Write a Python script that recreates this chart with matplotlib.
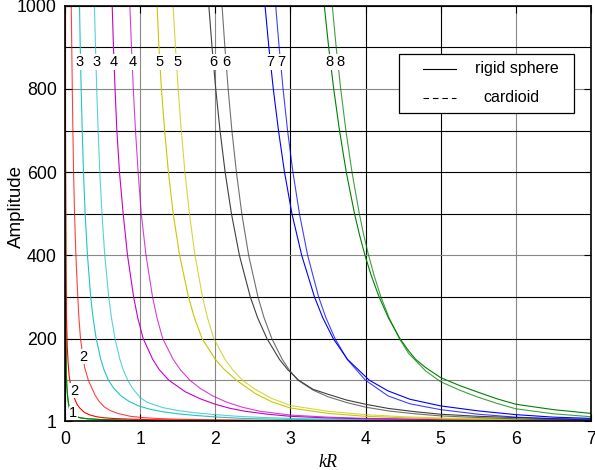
import numpy as np
import matplotlib
matplotlib.use('Agg')
import matplotlib.pyplot as plt
from matplotlib.lines import Line2D
from matplotlib.patches import Rectangle

plt.rcParams['font.family'] = ['Liberation Sans', 'DejaVu Sans']

# values (kR, amplitude)
rigid1_x = [0.004, 0.006, 0.009, 0.012, 0.016, 0.022, 0.033, 0.045, 0.06, 0.08, 0.113, 0.15, 0.2, 0.3, 0.5, 1.0, 2.0, 4.0, 7.0]
rigid1_y = [1000, 600, 350, 200, 120, 90, 63, 44, 31, 22, 15, 12, 9.5, 7, 5, 3, 2, 1.5, 1.3]
card1_x = [0.005, 0.007, 0.01, 0.013, 0.018, 0.025, 0.036, 0.048, 0.065, 0.085, 0.12, 0.16, 0.21, 0.3, 0.5, 1.0, 2.0, 4.0, 7.0]
card1_y = [1000, 600, 350, 200, 120, 88, 60, 43, 30, 22, 15, 12, 9, 7, 5, 3, 2, 1.6, 1.4]

rigid2_x = [0.004, 0.006, 0.009, 0.013, 0.02, 0.03, 0.042, 0.055, 0.075, 0.095, 0.115, 0.136, 0.165, 0.202, 0.26,
            0.335, 0.42, 0.512, 0.67, 0.867, 1.1, 1.5, 2.0, 2.5, 4.0, 7.0]
rigid2_y = [1000, 700, 500, 350, 250, 180, 140, 110, 88, 72, 61, 52, 40, 32, 22, 16, 12, 9.5, 7.5, 6.2, 5, 4, 3.5, 3, 2, 1.5]
card2_x = [0.083, 0.09, 0.097, 0.105, 0.114, 0.127, 0.145, 0.17, 0.185, 0.206, 0.24, 0.262, 0.31, 0.36, 0.4, 0.45,
           0.52, 0.6, 0.7, 0.87, 1.03, 1.25, 1.5, 2.0, 2.5, 4.0, 7.0]
card2_y = [1000, 900, 800, 700, 600, 500, 400, 300, 250, 200, 156, 130, 100, 80, 64, 50, 36, 27, 20, 13, 10, 7.5, 6,
           4.5, 3.5, 2.5, 2]

rigid3_x = [0.193, 0.203, 0.215, 0.229, 0.246, 0.268, 0.299, 0.342, 0.373, 0.415, 0.476, 0.519, 0.577, 0.65, 0.74,
            0.85, 0.98, 1.13, 1.3, 1.5, 1.74, 2.0, 2.36, 2.8, 3.5, 5.0, 7.0]
rigid3_y = [1000, 900, 800, 700, 600, 500, 400, 300, 250, 200, 150, 125, 100, 80, 63, 49, 38, 30, 24, 19, 15, 11.5, 8,
            6, 4.5, 3, 2]
card3_x = [0.392, 0.406, 0.422, 0.441, 0.463, 0.492, 0.529, 0.582, 0.618, 0.665, 0.73, 0.775, 0.834, 0.9, 1.0, 1.1,
           1.3, 1.5, 1.7, 2.0, 2.3, 2.6, 3.0, 4.0, 5.5, 7.0]
card3_y = [1000, 900, 800, 700, 600, 500, 400, 300, 250, 200, 150, 125, 100, 80, 58, 46, 34, 27, 22, 17, 13, 10.5, 8,
           5, 3, 2]

rigid4_x = [0.628, 0.645, 0.666, 0.69, 0.725, 0.774, 0.832, 0.913, 0.968, 1.04, 1.167, 1.255, 1.38, 1.6, 1.8, 2.0,
            2.2, 2.4, 2.7, 3.0, 3.5, 4.0, 5.0, 6.0, 7.0]
rigid4_y = [1000, 900, 800, 700, 600, 500, 400, 300, 250, 200, 150, 125, 100, 72, 55, 42, 32, 25, 18, 13, 9, 7, 5,
            3.5, 3]
card4_x = [0.863, 0.885, 0.909, 0.938, 0.973, 1.015, 1.078, 1.165, 1.224, 1.3, 1.439, 1.535, 1.66, 1.8, 1.957, 2.15,
           2.356, 2.6, 3.0, 3.5, 4.0, 5.0, 6.0, 7.0]
card4_y = [1000, 900, 800, 700, 600, 500, 400, 300, 250, 200, 150, 125, 100, 80, 63, 47, 35, 25, 16, 11, 8, 5.5, 4, 3]

rigid5_x = [1.226, 1.25, 1.283, 1.326, 1.376, 1.44, 1.525, 1.643, 1.722, 1.824, 2.0, 2.123, 2.28, 2.53, 2.75, 3.0,
            3.5, 4.0, 4.5, 5.0, 6.0, 7.0]
rigid5_y = [1000, 900, 800, 700, 600, 500, 400, 300, 250, 200, 150, 125, 100, 68, 48, 33, 20, 13, 9.5, 7, 5, 3.5]
card5_x = [1.439, 1.47, 1.506, 1.547, 1.596, 1.656, 1.73, 1.83, 1.896, 1.98, 2.129, 2.23, 2.36, 2.53, 2.75, 3.0, 3.5,
           4.0, 4.5, 5.0, 6.0, 7.0]
card5_y = [1000, 900, 800, 700, 600, 500, 400, 300, 250, 200, 150, 125, 100, 78, 56, 39, 25, 17, 12, 9, 6, 4.5]

rigid6_x = [1.914, 1.957, 2.006, 2.063, 2.131, 2.215, 2.321, 2.466, 2.563, 2.687, 2.853, 2.965, 3.108, 3.3, 3.5, 3.75,
            4.0, 4.3, 4.66, 5.0, 5.5, 6.0, 6.5, 7.0]
rigid6_y = [1000, 900, 800, 700, 600, 500, 400, 300, 250, 200, 150, 125, 100, 78, 66, 52, 42, 32, 24, 18, 13, 10,
            7.5, 6]
card6_x = [2.09, 2.128, 2.171, 2.221, 2.281, 2.353, 2.444, 2.568, 2.649, 2.752, 2.891, 2.982, 3.098, 3.3, 3.5, 3.75,
           4.0, 4.3, 4.66, 5.0, 5.5, 6.0, 6.5, 7.0]
card6_y = [1000, 900, 800, 700, 600, 500, 400, 300, 250, 200, 150, 125, 100, 76, 60, 46, 35, 26, 19, 14, 10, 7, 5, 4]

rigid7_x = [2.662, 2.713, 2.772, 2.841, 2.921, 3.02, 3.15, 3.32, 3.43, 3.569, 3.759, 4.048, 4.3, 4.59, 5.0, 5.5,
            6.0, 6.5, 7.0]
rigid7_y = [1000, 900, 800, 700, 600, 500, 400, 300, 250, 200, 150, 100, 74, 54, 38, 26, 17, 11, 8]
card7_x = [2.804, 2.85, 2.902, 2.962, 3.033, 3.12, 3.229, 3.375, 3.472, 3.593, 3.755, 3.997, 4.3, 4.59, 5.0, 5.5,
           6.0, 6.5, 7.0]
card7_y = [1000, 900, 800, 700, 600, 500, 400, 300, 250, 200, 150, 100, 62, 43, 29, 18, 11, 7, 4]

rigid8_x = [3.451, 3.509, 3.576, 3.653, 3.743, 3.853, 3.918, 3.992, 4.078, 4.18, 4.303, 4.457, 4.566, 4.666, 4.8,
            5.0, 5.25, 5.48, 5.75, 6.0, 6.5, 7.0]
rigid8_y = [1000, 900, 800, 700, 600, 500, 450, 400, 350, 300, 250, 200, 172, 150, 130, 106, 87, 72, 55, 42, 29, 20]
card8_x = [3.557, 3.609, 3.669, 3.738, 3.819, 3.917, 3.974, 4.04, 4.116, 4.204, 4.313, 4.449, 4.573, 4.8, 5.0, 5.25,
           5.48, 5.75, 6.0, 6.5, 7.0]
card8_y = [1000, 900, 800, 700, 600, 500, 450, 400, 350, 300, 250, 200, 164, 122, 96, 76, 60, 44, 31, 19, 12]

rigid = [(rigid1_x, rigid1_y), (rigid2_x, rigid2_y), (rigid3_x, rigid3_y), (rigid4_x, rigid4_y),
         (rigid5_x, rigid5_y), (rigid6_x, rigid6_y), (rigid7_x, rigid7_y), (rigid8_x, rigid8_y)]
card = [(card1_x, card1_y), (card2_x, card2_y), (card3_x, card3_y), (card4_x, card4_y),
        (card5_x, card5_y), (card6_x, card6_y), (card7_x, card7_y), (card8_x, card8_y)]
colors = ['#008000', '#ff0000', '#20c4c4', '#c800c8', '#c8c800', '#404040', '#0000ff', '#008000']

# order labels along the top
label_txt = ['3', '3', '4', '4', '5', '5', '6', '6', '7', '7', '8', '8']
label_x = [0.198, 0.419, 0.65, 0.903, 1.262, 1.492, 1.971, 2.144, 2.738, 2.875, 3.523, 3.664]
label_y = 865
# low order labels
low_txt = ['2', '2', '1']
low_x = [0.242, 0.118, 0.109]
low_y = [156, 74, 21]

W, H = 595, 470
fig = plt.figure(figsize=(W / 100, H / 100), dpi=100)
ax = fig.add_axes([65 / W, 1 - 421.3 / H, 526 / W, 415.6 / H])

ax.set_xlim(0, 7)
ax.set_ylim(1, 1000)
ax.set_xticks(range(0, 8))
ax.set_yticks([1, 200, 400, 600, 800, 1000])
ax.set_yticks([100, 300, 500, 700, 900], minor=True)
ax.grid(True, which='both', color='black', lw=0.8)
ax.set_axisbelow(True)
# some grid lines come out grey in the original rendering
for i, t in enumerate(ax.xaxis.get_major_ticks()):
    if i in (1, 2, 6):
        t.gridline.set_color('#888888')
for i, t in enumerate(ax.yaxis.get_major_ticks()):
    if i in (2, 4):
        t.gridline.set_color('#888888')
for i, t in enumerate(ax.yaxis.get_minor_ticks()):
    if i == 0:
        t.gridline.set_color('#888888')

for (rx, ry), (cx, cy), c in zip(rigid, card, colors):
    ax.plot(rx, ry, color=c, lw=0.8)
    ax.plot(cx, cy, color=c, lw=0.8, alpha=0.75)

for t, x in zip(label_txt, label_x):
    ax.text(x, label_y, t, ha='center', va='center', fontsize=10.5,
            bbox=dict(facecolor='white', edgecolor='none', pad=0.5))
for t, x, y in zip(low_txt, low_x, low_y):
    ax.text(x, y, t, ha='center', va='center', fontsize=10.5,
            bbox=dict(facecolor='white', edgecolor='none', pad=0.3))

ax.tick_params(which='both', direction='in', labelsize=12.8, top=True, right=True, length=5)
ax.tick_params(axis='y', pad=6)
ax.tick_params(axis='x', pad=7)
ax.tick_params(which='minor', length=0)
for s in ax.spines.values():
    s.set_linewidth(1.2)

ax.set_xlabel('kR', fontsize=13, family='Liberation Serif', style='italic', labelpad=4)

# legend box and y label placed in figure pixels
def fx(px):
    return px / W

def fy(py):
    return 1 - py / H

fig.text(fx(16), fy(207), 'Amplitude', fontsize=13.5, rotation=90, ha='center', va='center')

fig.patches.append(Rectangle((fx(399), fy(113)), fx(574) - fx(399), fy(54) - fy(113),
                             transform=fig.transFigure, facecolor='white', edgecolor='black', lw=0.9))
fig.lines.append(Line2D([fx(423), fx(456)], [fy(69), fy(69)], transform=fig.transFigure,
                        color='black', lw=0.8))
fig.lines.append(Line2D([fx(423), fx(456)], [fy(98), fy(98)], transform=fig.transFigure,
                        color='black', lw=0.8, dashes=(5, 3.5)))
fig.text(fx(475), fy(69), 'rigid sphere', fontsize=11.5, va='center', ha='left')
fig.text(fx(483), fy(97), 'cardioid', fontsize=11.5, va='center', ha='left')

fig.savefig('out.png', dpi=100)
